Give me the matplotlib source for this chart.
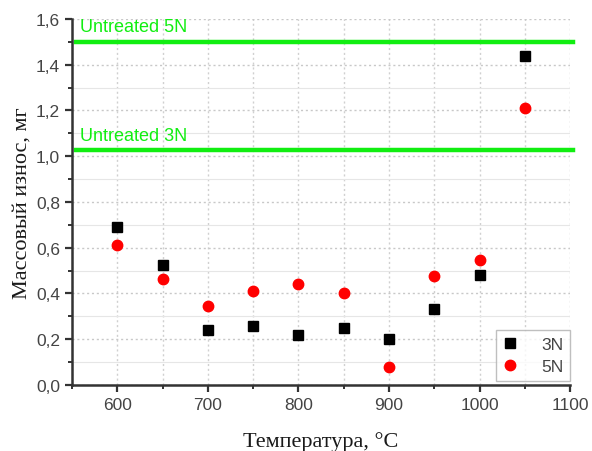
import matplotlib
matplotlib.use("Agg")
import matplotlib.pyplot as plt
from matplotlib.ticker import MultipleLocator, FuncFormatter

temps = [600, 650, 700, 750, 800, 850, 900, 950, 1000, 1050]
wear_3n = [0.69, 0.525, 0.24, 0.26, 0.22, 0.25, 0.20, 0.33, 0.48, 1.44]
wear_5n = [0.61, 0.465, 0.345, 0.41, 0.44, 0.40, 0.08, 0.475, 0.545, 1.21]
untreated_3n = 1.025
untreated_5n = 1.50

fig = plt.figure(figsize=(5.92, 4.52), dpi=100)
ax = fig.add_axes([0.1216, 0.146, 0.8414, 0.81])

tick_col = "#444444"
ax.set_xlim(550, 1100)
ax.set_ylim(0, 1.6)

ax.xaxis.set_major_locator(MultipleLocator(100))
ax.xaxis.set_minor_locator(MultipleLocator(50))
ax.yaxis.set_major_locator(MultipleLocator(0.2))
ax.yaxis.set_minor_locator(MultipleLocator(0.1))
ax.yaxis.set_major_formatter(FuncFormatter(lambda v, p: f"{v:.1f}".replace(".", ",")))

ax.grid(True, which="major", axis="y", color="#c8c8c8", linestyle=(0, (1.5, 2)), linewidth=1.0)
ax.grid(True, which="minor", axis="y", color="#e6e6e6", linestyle="-", linewidth=0.8)
ax.grid(True, which="both", axis="x", color="#d0d0d0", linestyle=(0, (1.5, 2)), linewidth=1.0)
ax.set_axisbelow(True)

for s in ["top", "right"]:
    ax.spines[s].set_visible(False)
for s in ["left", "bottom"]:
    ax.spines[s].set_linewidth(1.8)
    ax.spines[s].set_color("#333333")

ax.tick_params(which="major", direction="out", length=5, width=1.6, color="#333333",
               labelcolor=tick_col, labelsize=12.5)
ax.tick_params(which="minor", direction="out", length=3, width=1.4, color="#333333")
for lab in ax.get_xticklabels() + ax.get_yticklabels():
    lab.set_fontfamily("Liberation Sans")

green = "#11ee11"
ax.axhline(untreated_5n, xmin=0.008, xmax=1.005, color=green, linewidth=3.2, clip_on=False)
ax.axhline(untreated_3n, xmin=0.008, xmax=1.005, color=green, linewidth=3.2, clip_on=False)
ax.text(559, untreated_5n + 0.03, "Untreated 5N", color=green, fontsize=13,
        family="Liberation Sans", va="bottom", ha="left")
ax.text(559, untreated_3n + 0.03, "Untreated 3N", color=green, fontsize=13,
        family="Liberation Sans", va="bottom", ha="left")

ax.plot(temps, wear_3n, linestyle="none", marker="s", markersize=6.5, color="black",
        label="3N", zorder=5)
ax.plot(temps, wear_5n, linestyle="none", marker="o", markersize=7.5, color="#ff0000",
        label="5N", zorder=5)

leg = ax.legend(loc="lower right", bbox_to_anchor=(1.0, 0.012), borderaxespad=0,
                frameon=True, fancybox=False,
                edgecolor="#b0b0b0", markerfirst=True, handlelength=0.8,
                handletextpad=1.4, borderpad=0.4, labelspacing=0.35,
                prop={"family": "Liberation Sans", "size": 12.5})
leg.get_frame().set_linewidth(1.0)
for t in leg.get_texts():
    t.set_color(tick_col)

ax.set_xlabel("Температура, °C", family="Liberation Serif", fontsize=16, color="#1a1a1a",
              labelpad=14)
ax.set_ylabel("Массовый износ, мг", family="Liberation Serif", fontsize=16, color="#1a1a1a",
              labelpad=3)

fig.savefig("out.png", dpi=100)
